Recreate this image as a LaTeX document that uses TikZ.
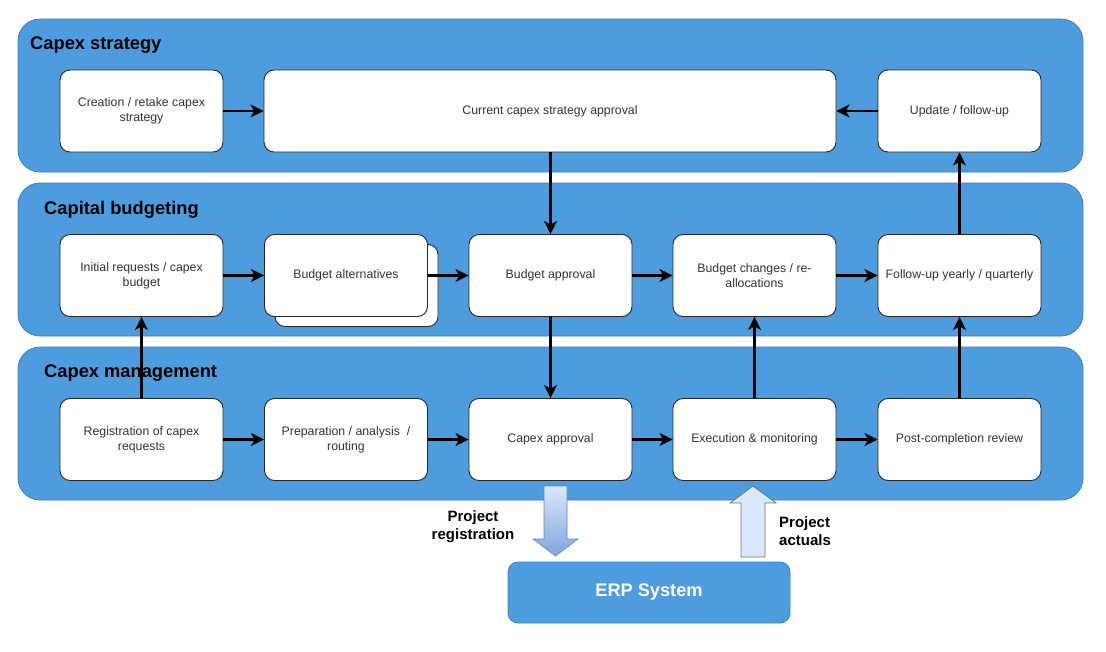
\documentclass[tikz,border=0pt]{standalone}
\usepackage{fontspec}
\setmainfont{Liberation Sans}
\usetikzlibrary{arrows.meta}
\definecolor{laneblue}{RGB}{77,157,222}
\definecolor{laneedge}{RGB}{60,128,192}
\definecolor{boxtext}{RGB}{51,51,51}
\definecolor{arrlight}{RGB}{218,232,252}
\definecolor{arrdark}{RGB}{126,166,224}
\tikzset{
  lane/.style={draw=laneedge, fill=laneblue, rounded corners=22pt, minimum width=1065pt, minimum height=153pt, line width=0.8pt},
  lanetitle/.style={anchor=west, font=\fontsize{18.3}{21}\selectfont\bfseries, text=black, inner sep=0pt},
  proc/.style={draw=black!85, fill=white, rounded corners=10pt, minimum width=163pt, minimum height=82pt, line width=0.9pt, align=center, text=boxtext, font=\fontsize{12.3}{15}\selectfont, inner sep=2pt},
  flow/.style={-{Stealth[length=13pt,width=13pt,inset=3.5pt]}, line width=2.5pt, black},
  blabel/.style={font=\fontsize{15}{18}\selectfont\bfseries, align=center, inner sep=0pt}
}
\begin{document}
\begin{tikzpicture}[x=1pt,y=-1pt]
\useasboundingbox (0,0) rectangle (1106,651);
% lanes
\node[lane] (L1) at (550.5,95.5) {};
\node[lane] (L2) at (550.5,259.5) {};
\node[lane] (L3) at (550.5,423.5) {};
\node[lanetitle] (T1) at (30,45) {Capex strategy};
\node[lanetitle] (T2) at (44,210) {Capital budgeting};
\node[lanetitle] (T3) at (44,373) {Capex management};
% row 1
\node[proc] (creation) at (141.5,111) {Creation / retake capex\\strategy};
\node[proc, minimum width=572pt] (current) at (550,111) {Current capex strategy approval};
\node[proc] (update) at (959.5,111) {Update / follow-up};
% row 2
\node[proc] (initial) at (141.5,275.5) {Initial requests / capex\\budget};
\node[proc] (altback) at (356.5,285.5) {};
\node[proc] (alt) at (346,275.5) {Budget alternatives};
\node[proc] (bapproval) at (550.5,275.5) {Budget approval};
\node[proc] (bchanges) at (754.5,275.5) {Budget changes / re-\\allocations};
\node[proc] (followup) at (959.5,275.5) {Follow-up yearly / quarterly};
% row 3
\node[proc] (registration) at (141.5,439.5) {Registration of capex\\requests};
\node[proc] (preparation) at (346,439.5) {Preparation / analysis~~/\\routing};
\node[proc] (capproval) at (550.5,439.5) {Capex approval};
\node[proc] (execution) at (754.5,439.5) {Execution \& monitoring};
\node[proc] (postcomp) at (959.5,439.5) {Post-completion review};
% connectors
\draw[flow] (creation.east) -- (current.west);
\draw[flow] (update.west) -- (current.east);
\draw[flow] (current.south -| bapproval.north) -- (bapproval.north);
\draw[flow] (initial.east) -- (alt.west);
\draw[flow] (alt.east) -- (bapproval.west);
\draw[flow] (bapproval.east) -- (bchanges.west);
\draw[flow] (bchanges.east) -- (followup.west);
\draw[flow] (followup.north) -- (update.south);
\draw[flow] (bapproval.south) -- (capproval.north);
\draw[flow] (registration.north) -- (initial.south);
\draw[flow] (execution.north) -- (bchanges.south);
\draw[flow] (postcomp.north) -- (followup.south);
\draw[flow] (registration.east) -- (preparation.west);
\draw[flow] (preparation.east) -- (capproval.west);
\draw[flow] (capproval.east) -- (execution.west);
\draw[flow] (execution.east) -- (postcomp.west);
% ERP
\node[draw=laneedge, fill=laneblue, rounded corners=10pt, minimum width=282pt, minimum height=61pt, text=white, font=\fontsize{18.2}{21}\selectfont\bfseries, line width=0.8pt] (erp) at (649,592.5) {ERP System};
% block arrows
\path[draw=arrdark!80!black, line width=0.6pt, top color=arrlight, bottom color=arrdark]
  (544,486) -- (567,486) -- (567,539) -- (578,539) -- (555.5,556) -- (533,539) -- (544,539) -- cycle;
\path[draw=black!55, line width=0.8pt, fill=arrlight]
  (741,557) -- (765,557) -- (765,503) -- (776,503) -- (753,486) -- (730,503) -- (741,503) -- cycle;
\node[blabel] (projreg) at (473,527) {Project\\registration};
\node[blabel, align=left, anchor=west] (projact) at (779,531.5) {Project\\actuals};
\end{tikzpicture}
\end{document}
